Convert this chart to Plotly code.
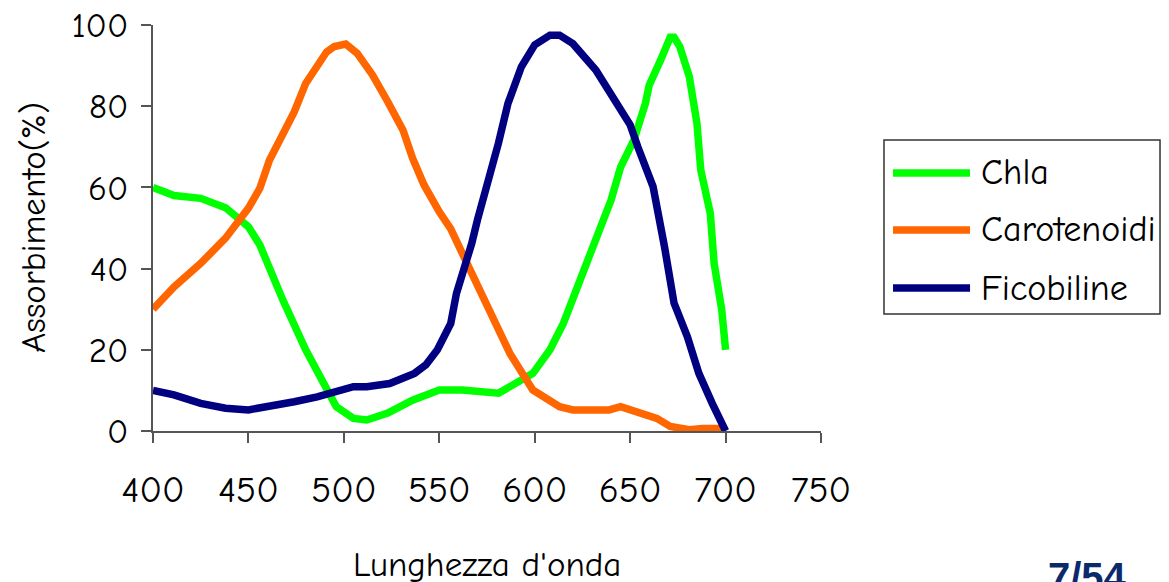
import plotly.graph_objects as go

# ---- data ----
chla_x = [400, 411, 425, 438, 450, 456, 468, 480, 496, 505, 512, 523, 536, 550, 562, 581, 599,
          608, 615, 627, 633, 640, 645, 652, 658, 660, 666, 671, 673, 676, 681, 685, 687, 692,
          694, 698, 700]
chla_y = [60, 58, 57.3, 55, 50.3, 45.8, 32.3, 20, 6, 3.1, 2.7, 4.4, 7.6, 10.1, 10.1, 9.3, 14.2,
          20, 26.5, 41.3, 48.7, 56.9, 65, 71.7, 80.7, 85.2, 91.4, 97, 97, 94.7, 87.3, 75.8, 64.3,
          53.6, 41.3, 29.8, 20]

car_x = [400, 411, 425, 438, 450, 456, 461, 468, 474, 480, 487, 491, 495, 501, 507, 515, 523,
         531, 536, 542, 550, 556, 562, 574, 587, 599, 613, 620, 639, 645, 664, 671, 681, 688, 700]
car_y = [30, 35.5, 41.3, 47.5, 54.9, 59.8, 66.7, 72.9, 78.6, 85.6, 90.6, 93.4, 94.7, 95.3, 93,
         87.7, 81.1, 74.1, 67.2, 60.6, 54, 49.8, 43.8, 31.5, 19.1, 10.1, 6, 5.2, 5.2, 6, 3.1,
         1.1, 0.3, 0.6, 0.6]

fico_x = [400, 411, 425, 438, 450, 461, 474, 486, 493, 505, 512, 524, 537, 543, 549, 552, 556,
          559, 562, 567, 570, 576, 581, 586, 593, 600, 608, 613, 620, 632, 641, 650, 654, 662,
          668, 673, 680, 686, 693, 700]
fico_y = [10, 8.9, 6.8, 5.6, 5.2, 6, 7.2, 8.4, 9.3, 10.9, 10.9, 11.7, 14.2, 16.3, 20, 23.2,
          26.5, 33.9, 38, 46.2, 52, 61.8, 70.9, 80.7, 89.7, 95.1, 97.5, 97.5, 95.4, 88.9, 82.3,
          75.4, 70, 60.2, 45.4, 31.5, 23.2, 14.2, 6.8, 0]

series_names = ["Chla", "Carotenoidi", "Ficobiline"]
series_colors = ["#00FF00", "#FF6600", "#000080"]
series_x = [chla_x, car_x, fico_x]
series_y = [chla_y, car_y, fico_y]

x_ticks = [400, 450, 500, 550, 600, 650, 700, 750]
y_ticks = [0, 20, 40, 60, 80, 100]

FONT = "Comic Sans MS, Comic Neue, Liberation Sans, sans-serif"

fig = go.Figure()
for name, col, xs, ys in zip(series_names, series_colors, series_x, series_y):
    fig.add_trace(go.Scatter(x=xs, y=ys, mode="lines", name=name,
                             line=dict(color=col, width=7.5), showlegend=False))

# custom legend (box + samples + labels)
fig.add_shape(type="rect", xref="paper", yref="paper", x0=1.0943, x1=1.5075, y0=0.288, y1=0.7167,
              line=dict(color="#333333", width=1.5), fillcolor="white", layer="below")
leg_y = [0.6355, 0.4951, 0.3522]
for name, col, ly in zip(series_names, series_colors, leg_y):
    fig.add_shape(type="line", xref="paper", yref="paper", x0=1.1078, x1=1.2231, y0=ly, y1=ly,
                  line=dict(color=col, width=7.5))
    fig.add_annotation(xref="paper", yref="paper", x=1.236, y=ly, text=name, showarrow=False,
                       xanchor="left", yanchor="middle", font=dict(size=36, color="black", family=FONT))

fig.add_annotation(xref="paper", yref="paper", x=0.5, y=-0.330, text="Lunghezza d'onda",
                   showarrow=False, xanchor="center", yanchor="middle",
                   font=dict(size=35, color="black", family=FONT))
fig.add_annotation(xref="paper", yref="paper", x=-0.1796, y=0.5, text="Assorbimento(%)",
                   showarrow=False, textangle=-90, xanchor="center", yanchor="middle",
                   font=dict(size=35, color="black", family=FONT))
fig.add_annotation(xref="paper", yref="paper", x=1.399, y=-0.300, text="<b>7/54</b>",
                   showarrow=False, xanchor="center", yanchor="top",
                   font=dict(size=40, color="#0B2A6B", family="Liberation Sans, Arial, sans-serif"))

fig.update_xaxes(range=[400, 750], tickvals=x_ticks, ticktext=[str(v) for v in x_ticks],
                 showline=True, linecolor="#555555", linewidth=1.5, ticks="outside", ticklen=10,
                 tickcolor="#555555", tickwidth=1.5, showgrid=False, zeroline=False,
                 ticklabelstandoff=15, ticklabeloverflow="allow",
                 tickfont=dict(size=37, color="black", family=FONT))
fig.update_yaxes(range=[0, 100], tickvals=y_ticks, ticktext=[str(v) for v in y_ticks],
                 showline=True, linecolor="#555555", linewidth=1.5, ticks="outside", ticklen=10,
                 tickcolor="#555555", tickwidth=1.5, showgrid=False, zeroline=False,
                 ticklabelstandoff=6, ticklabeloverflow="allow",
                 tickfont=dict(size=35, color="black", family=FONT))

# page body has an 8px margin: shift the figure so the plot area lands where the reference has it
fig.update_layout(width=1161, height=574, margin=dict(l=145, r=348, t=17, b=151, autoexpand=False),
                  plot_bgcolor="white", paper_bgcolor="white", showlegend=False)

fig.write_html("out.html")
